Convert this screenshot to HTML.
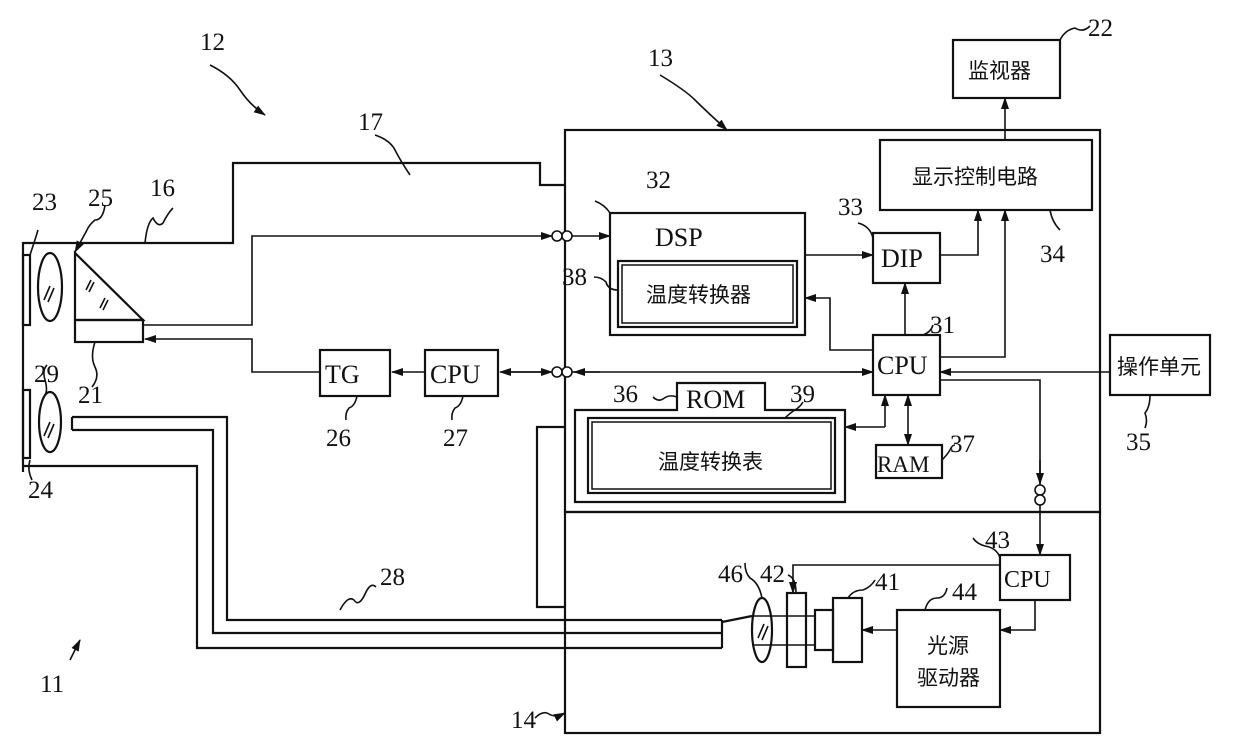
<!DOCTYPE html>
<html><head><meta charset="utf-8"><style>
html,body{margin:0;padding:0;background:#fff}
svg{display:block}
text{font-family:"Liberation Serif","Noto Serif CJK SC",serif;fill:#111}
.c{font-family:"Liberation Sans","Noto Sans CJK SC",sans-serif}
</style></head><body>
<svg width="1240" height="740" viewBox="0 0 1240 740" xmlns="http://www.w3.org/2000/svg">
<defs><marker id="a" markerWidth="12" markerHeight="8" refX="11" refY="4" orient="auto" markerUnits="userSpaceOnUse"><path d="M0,0 L12,4 L0,8 z" fill="#111"/></marker></defs>
<g fill="none" stroke="#111" stroke-width="2.2">
<rect x="565" y="130" width="535" height="382"/>
<rect x="565" y="512" width="535" height="221"/>
<polyline points="23,472 23,243 233,243 233,163 540,163 540,185 565,185"/>
<polyline points="23,466 197,466 197,648 722,648"/>
<polyline points="72,417 227,417 227,620 722,620"/>
<polyline points="72,430 213,430 213,633 722,633"/>
<line x1="72" y1="417" x2="72" y2="430"/>
<polyline points="722,620 722,648"/>
<polyline points="722,622 752,616 M722,646 752,652" />
<rect x="23" y="255" width="7" height="70"/>
<rect x="23" y="390" width="7" height="68"/>
<ellipse cx="50" cy="287" rx="12" ry="34"/>
<ellipse cx="50" cy="422" rx="11" ry="30"/>
<polygon points="75,253 75,320 143,320"/>
<rect x="75" y="320" width="68" height="22"/>
<polyline points="565,427 537,427 537,607 565,607"/>
<rect x="320" y="350" width="70" height="46"/>
<rect x="425" y="350" width="73" height="46"/>
<rect x="610" y="213" width="195" height="122"/>
<rect x="618" y="261" width="179" height="66"/>
<rect x="622" y="265" width="171" height="58" stroke-width="1.5"/>
<rect x="873" y="233" width="67" height="50"/>
<rect x="873" y="335" width="67" height="60"/>
<rect x="880" y="140" width="212" height="70"/>
<rect x="953" y="40" width="107" height="58"/>
<path d="M575,502 V410 H677 V383 H765 V410 H845 V502 Z"/>
<rect x="588" y="418" width="247" height="75"/>
<rect x="592" y="422" width="239" height="67" stroke-width="1.5"/>
<rect x="876" y="445" width="66" height="33"/>
<rect x="1110" y="335" width="100" height="60"/>
<rect x="1000" y="555" width="70" height="45"/>
<rect x="897" y="610" width="103" height="97"/>
<rect x="833" y="598" width="29" height="64"/>
<rect x="815" y="610" width="18" height="40"/>
<rect x="787" y="593" width="19" height="74"/>
<ellipse cx="762" cy="630" rx="10" ry="32"/>
<line x1="752" y1="616" x2="815" y2="616" stroke-width="1.5"/>
<line x1="752" y1="645" x2="815" y2="645" stroke-width="1.5"/>
</g>
<g fill="none" stroke="#111" stroke-width="1.6">
<path d="M44,300 l6,-14 M48,302 l6,-14 M44,436 l6,-14 M48,438 l6,-14 M86,290 l5,-10 M89,292 l5,-10 M100,308 l5,-10 M103,310 l5,-10 M758,638 l6,-14 M762,640 l6,-14"/>
<polyline points="143,325 252,325 252,236 552,236" marker-end="url(#a)"/>
<circle cx="557" cy="236" r="5" fill="#fff"/><circle cx="567" cy="236" r="5" fill="#fff"/>
<line x1="572" y1="236" x2="610" y2="236" marker-end="url(#a)"/>
<polyline points="320,372 252,372 252,339 145,339" marker-end="url(#a)"/>
<line x1="425" y1="372" x2="392" y2="372" marker-end="url(#a)"/>
<line x1="505" y1="372" x2="552" y2="372" marker-end="url(#a)"/>
<line x1="545" y1="372" x2="500" y2="372" marker-end="url(#a)"/>
<circle cx="557" cy="372" r="5" fill="#fff"/><circle cx="567" cy="372" r="5" fill="#fff"/>
<line x1="572" y1="372" x2="873" y2="372" />
<line x1="600" y1="372" x2="574" y2="372" marker-end="url(#a)"/>
<line x1="840" y1="372" x2="873" y2="372" marker-end="url(#a)"/>
<line x1="805" y1="255" x2="873" y2="255" marker-end="url(#a)"/>
<polyline points="940,255 978,255 978,210" marker-end="url(#a)"/>
<line x1="905" y1="335" x2="905" y2="283" marker-end="url(#a)"/>
<polyline points="940,357 1005,357 1005,210" marker-end="url(#a)"/>
<line x1="1005" y1="140" x2="1005" y2="98" marker-end="url(#a)"/>
<polyline points="873,350 830,350 830,298 805,298" marker-end="url(#a)"/>
<line x1="1110" y1="372" x2="940" y2="372" marker-end="url(#a)"/>
<polyline points="940,380 1040,380 1040,485" />
<circle cx="1040" cy="490" r="5" fill="#fff"/><circle cx="1040" cy="500" r="5" fill="#fff"/>
<line x1="1040" y1="505" x2="1040" y2="555" marker-end="url(#a)"/>
<line x1="1040" y1="460" x2="1040" y2="484" marker-end="url(#a)"/>
<polyline points="885,427 845,427" marker-end="url(#a)"/>
<line x1="885" y1="427" x2="885" y2="395" marker-end="url(#a)"/>
<line x1="908" y1="420" x2="908" y2="395" marker-end="url(#a)"/>
<line x1="908" y1="420" x2="908" y2="445" marker-end="url(#a)"/>
<polyline points="1000,565 793,565 793,593" marker-end="url(#a)"/>
<polyline points="1035,600 1035,630 1000,630" marker-end="url(#a)"/>
<line x1="897" y1="630" x2="862" y2="630" marker-end="url(#a)"/>
<path d="M210,65 q20,10 30,25 t25,25" marker-end="url(#a)"/>
<path d="M660,75 q25,15 35,25 t32,30" marker-end="url(#a)"/>
<path d="M375,135 q15,5 20,15 t15,25"/>
<path d="M145,243 q2,-20 8,-25 q5,10 10,5 q5,-10 10,-15"/>
<path d="M105,205 q-2,15 -10,15 q-6,5 -8,10 L75,252" marker-end="url(#a)"/>
<path d="M30,255 q5,-15 8,-25"/>
<path d="M95,342 q-5,15 0,25 t-3,20"/>
<path d="M30,460 q-3,10 2,20"/>
<path d="M45,395 q3,-5 0,-15 q-3,-10 2,-15"/>
<path d="M357,396 q-2,10 -8,12 q-4,5 -3,12"/>
<path d="M463,396 q-2,10 -8,12 q-4,5 -3,12"/>
<path d="M618,290 q-10,0 -12,-8 q-5,-5 -12,-5"/>
<path d="M610,213 q-5,-8 -15,-12"/>
<path d="M677,397 q-8,-3 -14,2 q-5,3 -10,-2"/>
<path d="M785,418 q5,-5 10,-8 q5,-3 8,-8"/>
<path d="M873,238 q-3,-12 -15,-15"/>
<path d="M923,335 q8,-3 10,-10"/>
<path d="M1050,210 q2,12 10,20"/>
<path d="M942,460 q5,-5 8,-10 q2,-5 5,-5"/>
<path d="M1060,40 q5,-10 15,-12 q8,5 15,-2"/>
<path d="M1150,395 q0,12 -5,18 q3,8 0,15"/>
<path d="M340,610 q8,-15 14,-10 q5,8 12,-8 q5,-10 10,-5"/>
<path d="M535,718 q8,-8 14,-4 q6,4 16,-1" marker-end="url(#a)"/>
<path d="M70,660 l10,-20" marker-end="url(#a)"/>
<path d="M762,598 q-3,-15 -12,-20 q-5,-5 -5,-15"/>
<path d="M796,593 q0,-15 -8,-18"/>
<path d="M848,598 q5,-8 15,-8 q8,-3 12,-10"/>
<path d="M925,610 q3,-12 12,-12 q8,0 10,-10"/>
<path d="M1000,558 q-3,-10 -15,-12 q-8,-2 -12,-8"/>
</g>
<g font-size="25">
<text x="200" y="50">12</text>
<text x="648" y="66">13</text>
<text x="358" y="130">17</text>
<text x="150" y="196">16</text>
<text x="32" y="210">23</text>
<text x="88" y="206">25</text>
<text x="34" y="382">29</text>
<text x="78" y="403">21</text>
<text x="28" y="498">24</text>
<text x="326" y="446">26</text>
<text x="443" y="446">27</text>
<text x="646" y="188">32</text>
<text x="562" y="285">38</text>
<text x="838" y="215">33</text>
<text x="1040" y="262">34</text>
<text x="930" y="333">31</text>
<text x="1088" y="36">22</text>
<text x="613" y="402">36</text>
<text x="790" y="402">39</text>
<text x="950" y="452">37</text>
<text x="1126" y="450">35</text>
<text x="380" y="585">28</text>
<text x="40" y="692">11</text>
<text x="511" y="728">14</text>
<text x="718" y="582">46</text>
<text x="760" y="582">42</text>
<text x="875" y="590">41</text>
<text x="952" y="600">44</text>
<text x="985" y="548">43</text>
</g>
<g font-size="26">
<text x="655" y="246">DSP</text>
<text x="881" y="267">DIP</text>
<text x="877" y="374">CPU</text>
<text x="325" y="383">TG</text>
<text x="430" y="383">CPU</text>
<text x="686" y="408">ROM</text>
<text x="877" y="472" font-size="23">RAM</text>
<text x="1004" y="587" font-size="24">CPU</text>
</g>
<g font-size="21" class="c">
<text x="968" y="78" class="c">监视器</text>
<text x="912" y="184" class="c">显示控制电路</text>
<text x="646" y="302" class="c">温度转换器</text>
<text x="658" y="469" class="c">温度转换表</text>
<text x="1117" y="374" class="c">操作单元</text>
<text x="927" y="653" class="c">光源</text>
<text x="917" y="685" class="c">驱动器</text>
</g>
</svg>
</body></html>
